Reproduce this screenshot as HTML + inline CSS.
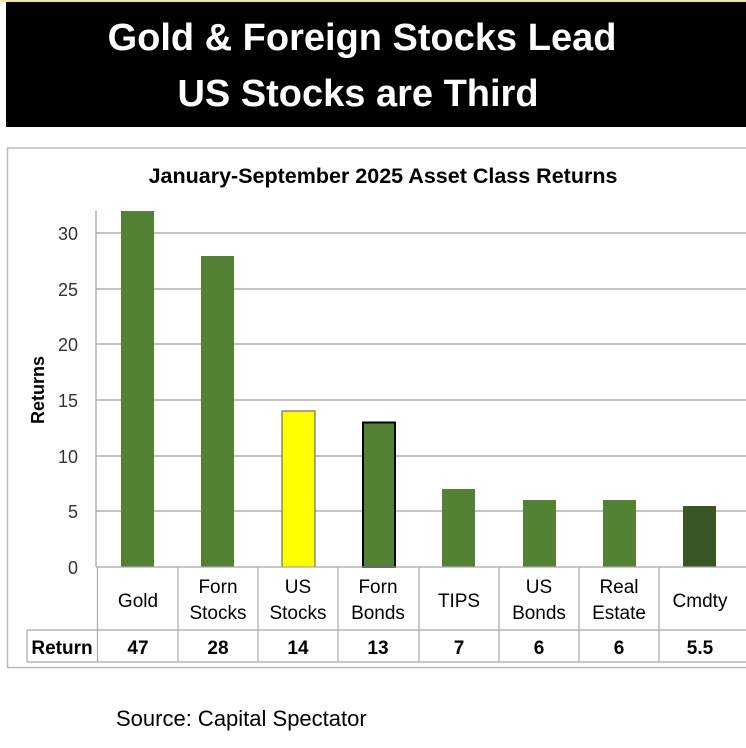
<!DOCTYPE html>
<html><head><style>
body{margin:0;width:746px;height:743px;background:#fff;overflow:hidden;font-family:"Liberation Sans",sans-serif}
</style></head><body>
<svg width="746" height="743" xmlns="http://www.w3.org/2000/svg" font-family="Liberation Sans, sans-serif">
<rect x="0" y="0" width="746" height="2" fill="#f3e3a0"/>
<rect x="6" y="2" width="740" height="125" fill="#000"/>
<text x="362" y="50" font-size="38" font-weight="bold" fill="#fff" text-anchor="middle">Gold &amp; Foreign Stocks Lead</text>
<text x="358" y="106" font-size="38" font-weight="bold" fill="#fff" text-anchor="middle">US Stocks are Third</text>
<path d="M746 148 H7.5 V667.5 H746" fill="none" stroke="#bbb" stroke-width="1.5"/>
<text x="383" y="183" font-size="21.5" font-weight="bold" text-anchor="middle">January-September 2025 Asset Class Returns</text>
<g stroke="#a0a0a0" stroke-width="1.2">
<line x1="96" y1="511" x2="746" y2="511"/><line x1="96" y1="456" x2="746" y2="456"/>
<line x1="96" y1="400" x2="746" y2="400"/><line x1="96" y1="344" x2="746" y2="344"/>
<line x1="96" y1="289" x2="746" y2="289"/><line x1="96" y1="233" x2="746" y2="233"/>
<line x1="96" y1="211" x2="96" y2="567"/>
</g>
<g font-size="18" fill="#333" text-anchor="end">
<text x="78" y="574">0</text><text x="78" y="518">5</text><text x="78" y="463">10</text>
<text x="78" y="407">15</text><text x="78" y="351">20</text><text x="78" y="296">25</text><text x="78" y="240">30</text>
</g>
<text transform="translate(44,390) rotate(-90)" font-size="18" font-weight="bold" text-anchor="middle">Returns</text>
<rect x="121" y="211" width="33" height="356" fill="#548235"/>
<rect x="201" y="256" width="33" height="311" fill="#548235"/>
<rect x="282" y="411" width="33" height="156" fill="#ffff00" stroke="#555" stroke-width="1"/>
<rect x="363" y="422.5" width="32" height="144.5" fill="#548235" stroke="#000" stroke-width="2"/>
<rect x="442" y="489" width="33" height="78" fill="#548235"/>
<rect x="523" y="500" width="33" height="67" fill="#548235"/>
<rect x="603" y="500" width="33" height="67" fill="#548235"/>
<rect x="683" y="506" width="33" height="61" fill="#375623"/>
<g stroke="#a8a8a8" stroke-width="1.2" fill="none">
<line x1="96" y1="567" x2="746" y2="567"/>
<line x1="27" y1="630" x2="746" y2="630"/>
<line x1="27" y1="662" x2="746" y2="662"/>
<line x1="27" y1="630" x2="27" y2="662"/>
<line x1="97.5" y1="567" x2="97.5" y2="662"/>
<line x1="178" y1="567" x2="178" y2="662"/><line x1="258" y1="567" x2="258" y2="662"/>
<line x1="338" y1="567" x2="338" y2="662"/><line x1="419" y1="567" x2="419" y2="662"/>
<line x1="499" y1="567" x2="499" y2="662"/><line x1="579" y1="567" x2="579" y2="662"/>
<line x1="659" y1="567" x2="659" y2="662"/>
</g>
<g font-size="19" text-anchor="middle" fill="#000">
<text x="138" y="607">Gold</text>
<text x="218" y="593">Forn</text><text x="218" y="619">Stocks</text>
<text x="298" y="593">US</text><text x="298" y="619">Stocks</text>
<text x="378" y="593">Forn</text><text x="378" y="619">Bonds</text>
<text x="459" y="607">TIPS</text>
<text x="539" y="593">US</text><text x="539" y="619">Bonds</text>
<text x="619" y="593">Real</text><text x="619" y="619">Estate</text>
<text x="700" y="607">Cmdty</text>
</g>
<g font-size="19" font-weight="bold" text-anchor="middle">
<text x="62" y="654">Return</text>
<text x="138" y="654">47</text><text x="218" y="654">28</text><text x="298" y="654">14</text>
<text x="378" y="654">13</text><text x="459" y="654">7</text><text x="539" y="654">6</text>
<text x="619" y="654">6</text><text x="700" y="654">5.5</text>
</g>
<text x="116" y="726" font-size="22" fill="#000">Source: Capital Spectator</text>
</svg>
</body></html>
